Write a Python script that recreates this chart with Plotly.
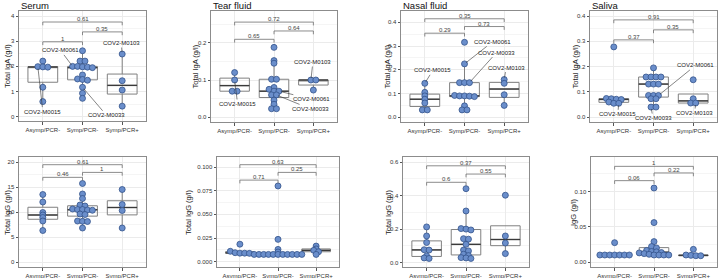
import numpy as np
import plotly.graph_objects as go

W, H = 719, 278
groups = ["Asymp/PCR-", "Symp/PCR-", "Symp/PCR+"]

# ---------------- data (g/l) ----------------
serum_iga_asymp = [2.21, 1.99, 1.98, 1.97, 1.17, 0.60]
serum_iga_symp_neg = [2.62, 2.21, 2.21, 2.00, 2.00, 1.98, 1.97, 1.95, 1.66, 1.50, 1.48, 1.45, 1.17, 0.93, 0.73]
serum_iga_symp_pos = [2.49, 1.43, 1.06, 0.42]
serum_iga_p = ["1", "0.35", "0.61"]          # (1-2, 2-3, 1-3)

tear_iga_asymp = [0.12, 0.10, 0.07, 0.07]
tear_iga_symp_neg = [0.1875, 0.152, 0.145, 0.102, 0.102, 0.08, 0.075, 0.07, 0.07, 0.06, 0.06, 0.046, 0.035, 0.023, 0.023]
tear_iga_symp_pos = [0.10, 0.10, 0.073]
tear_iga_p = ["0.65", "0.64", "0.72"]

nasal_iga_asymp = [0.143, 0.105, 0.09, 0.076, 0.06, 0.031, 0.031]
nasal_iga_symp_neg = [0.316, 0.225, 0.146, 0.146, 0.146, 0.092, 0.09, 0.09, 0.089, 0.087, 0.048, 0.031, 0.031]
nasal_iga_symp_pos = [0.159, 0.143, 0.095, 0.05]
nasal_iga_p = ["0.29", "0.73", "0.35"]

saliva_iga_asymp = [0.278, 0.074, 0.073, 0.071, 0.07, 0.06, 0.055, 0.055]
saliva_iga_symp_neg = [0.195, 0.159, 0.159, 0.159, 0.159, 0.131, 0.131, 0.131, 0.086, 0.086, 0.086, 0.073, 0.073, 0.04, 0.04]
saliva_iga_symp_pos = [0.148, 0.073, 0.056, 0.056]
saliva_iga_p = ["0.37", "0.35", "0.91"]

serum_igg_asymp = [13.5, 12.0, 9.9, 9.4, 8.9, 8.2, 6.3]
serum_igg_symp_neg = [15.7, 13.6, 12.7, 11.4, 11.2, 10.6, 10.5, 10.5, 10.4, 10.35, 9.6, 9.5, 8.2, 8.15, 8.1, 6.8]
serum_igg_symp_pos = [14.5, 11.5, 10.3, 6.8]
serum_igg_p = ["0.46", "1", "0.61"]

tear_igg_asymp = [0.0185, 0.011, 0.0095, 0.009, 0.009, 0.0088]
tear_igg_symp_neg = [0.080, 0.0236, 0.013, 0.0102] + [0.0077] * 11
tear_igg_symp_pos = [0.0165, 0.0135, 0.012, 0.0105, 0.0077]
tear_igg_p = ["0.71", "0.25", "0.63"]

nasal_igg_asymp = [0.213, 0.159, 0.12, 0.077, 0.075, 0.04, 0.028, 0.025]
nasal_igg_symp_neg = [0.441, 0.308, 0.203, 0.2, 0.195, 0.143, 0.14, 0.109, 0.075, 0.07, 0.05, 0.042, 0.03, 0.028, 0.025]
nasal_igg_symp_pos = [0.402, 0.159, 0.117, 0.054]
nasal_igg_p = ["0.6", "0.55", "0.37"]

saliva_igg_asymp = [0.0275] + [0.01] * 7
saliva_igg_symp_neg = [0.105, 0.056, 0.029, 0.022, 0.02, 0.0165, 0.015, 0.0145, 0.0135, 0.013, 0.012, 0.011, 0.01, 0.01, 0.01, 0.01]
saliva_igg_symp_pos = [0.018, 0.01, 0.0095, 0.009, 0.009]
saliva_igg_p = ["0.06", "0.22", "1"]

# labelled samples: (sample id, group index, point index)
serum_iga_ids = [("COV2-M0015", 0, 1), ("COV2-M0061", 1, 3), ("COV2-M0033", 1, 12), ("COV2-M0103", 2, 0)]
tear_iga_ids = [("COV2-M0015", 0, 1), ("COV2-M0061", 1, 8), ("COV2-M0033", 1, 10), ("COV2-M0103", 2, 0)]
nasal_iga_ids = [("COV2-M0015", 0, 0), ("COV2-M0061", 1, 1), ("COV2-M0033", 1, 4), ("COV2-M0103", 2, 0)]
saliva_iga_ids = [("COV2-M0015", 0, 7), ("COV2-M0061", 1, 10), ("COV2-M0033", 1, 13), ("COV2-M0103", 2, 3)]

# ---------------- layout config ----------------
FONT = "Liberation Sans, Arial, sans-serif"
panels = [
    dict(title="Serum", ytitle="Total IgA (g/l)", data=[serum_iga_asymp, serum_iga_symp_neg, serum_iga_symp_pos],
         p=serum_iga_p, ids=serum_iga_ids, box=(19, 146, 11, 121), yr=[-0.17, 4.2], dt=1, fmt="d", ytx=7,
         lev=(0.72, 0.81, 0.90), lab=[(5, 45), (-12, -16), (24, 28), (-1, -11)]),
    dict(title="Tear fluid", ytitle="Total IgA (g/l)", data=[tear_iga_asymp, tear_iga_symp_neg, tear_iga_symp_pos],
         p=tear_iga_p, ids=tear_iga_ids, box=(211, 337, 11, 122), yr=[-0.0126, 0.285], dt=0.1, fmt=".1f", ytx=195,
         lev=(0.745, 0.82, 0.90), lab=[(3, 24), (33, 8), (34, 14), (2, -18)]),
    dict(title="Nasal fluid", ytitle="Total IgA (g/l)", data=[nasal_iga_asymp, nasal_iga_symp_neg, nasal_iga_symp_pos],
         p=nasal_iga_p, ids=nasal_iga_ids, box=(401, 528, 11, 122), yr=[-0.02, 0.448], dt=0.1, fmt=".1f", ytx=387,
         lev=(0.80, 0.86, 0.93), lab=[(8, -13), (28, -22), (27, -30), (2, -12)]),
    dict(title="Saliva", ytitle="Total IgA (g/l)", data=[saliva_iga_asymp, saliva_iga_symp_neg, saliva_iga_symp_pos],
         p=saliva_iga_p, ids=saliva_iga_ids, box=(590, 717, 11, 122), yr=[-0.019, 0.42], dt=0.1, fmt=".1f", ytx=575,
         lev=(0.74, 0.83, 0.92), lab=[(-1, 11), (37, -30), (2, 11), (-1, 10)]),
    dict(title="", ytitle="Total IgG (g/l)", data=[serum_igg_asymp, serum_igg_symp_neg, serum_igg_symp_pos],
         p=serum_igg_p, ids=[], box=(19, 146, 157, 267), yr=[-1.0, 21.0], dt=5, fmt="d", ytx=7,
         lev=(0.815, 0.86, 0.93), lab=[]),
    dict(title="", ytitle="Total IgG (g/l)", data=[tear_igg_asymp, tear_igg_symp_neg, tear_igg_symp_pos],
         p=tear_igg_p, ids=[], box=(217, 339, 157, 267), yr=[-0.0056, 0.1106], dt=0.025, fmt=".3f", ytx=188,
         lev=(0.79, 0.86, 0.93), lab=[]),
    dict(title="", ytitle="Total IgG (g/l)", data=[nasal_igg_asymp, nasal_igg_symp_neg, nasal_igg_symp_pos],
         p=nasal_igg_p, ids=[], box=(403, 529, 157, 267), yr=[-0.026, 0.63], dt=0.2, fmt=".1f", ytx=388,
         lev=(0.77, 0.845, 0.92), lab=[]),
    dict(title="", ytitle="IgG (g/l)", data=[saliva_igg_asymp, saliva_igg_symp_neg, saliva_igg_symp_pos],
         p=saliva_igg_p, ids=[], box=(591, 717, 157, 267), yr=[-0.007, 0.149], dt=0.05, fmt=".2f", ytx=573,
         lev=(0.785, 0.855, 0.915), lab=[]),
]

DOT_STEP = 0.125
BOX_W = 0.75


def dot_offsets(vals, bw):
    vals = np.asarray(vals, float)
    order = np.argsort(vals, kind="stable")
    offs = np.zeros(len(vals))
    bins, cur, start = [], [], None
    for i in order:
        if start is None or vals[i] >= start + bw - 1e-12:
            if cur:
                bins.append(cur)
            cur, start = [i], vals[i]
        else:
            cur.append(i)
    if cur:
        bins.append(cur)
    for b in bins:
        b = sorted(b)
        k = len(b)
        for j, i in enumerate(b):
            offs[i] = (j - (k - 1) / 2) * DOT_STEP
    return offs


fig = go.Figure()
shapes, annotations = [], []

for n, pn in enumerate(panels, start=1):
    xa = "x" if n == 1 else f"x{n}"
    ya = "y" if n == 1 else f"y{n}"
    allv = np.concatenate([np.asarray(d, float) for d in pn["data"]])
    bw = (allv.max() - allv.min()) / 30.0
    pos_store = []
    for gi, vals in enumerate(pn["data"]):
        v = np.asarray(vals, float)
        pos = gi + 1
        q1, med, q3 = np.percentile(v, [25, 50, 75])
        iqr = q3 - q1
        lf = v[v >= q1 - 1.5 * iqr].min()
        uf = v[v <= q3 + 1.5 * iqr].max()
        fig.add_trace(go.Box(x=[pos], q1=[q1], median=[med], q3=[q3], lowerfence=[lf], upperfence=[uf],
                             width=BOX_W, whiskerwidth=0, boxpoints=False,
                             line=dict(color="#808080", width=1), fillcolor="rgba(255,255,255,0)",
                             xaxis=xa, yaxis=ya, showlegend=False, hoverinfo="skip"))
        fig.add_trace(go.Scatter(x=[pos - BOX_W / 2, pos + BOX_W / 2], y=[med, med], mode="lines",
                                 line=dict(color="#3a3a3a", width=1.4), xaxis=xa, yaxis=ya,
                                 showlegend=False, hoverinfo="skip"))
        offs = dot_offsets(v, bw)
        xs = pos + offs
        pos_store.append((xs, v))
        fig.add_trace(go.Scatter(x=xs, y=v, mode="markers",
                                 marker=dict(size=6, color="#6a8ecb", line=dict(color="#34538a", width=0.8)),
                                 xaxis=xa, yaxis=ya, showlegend=False))

    # sample labels
    for (txt, gi, pi), (ax, ay) in zip(pn["ids"], pn["lab"]):
        xs, v = pos_store[gi]
        annotations.append(dict(x=xs[pi], y=v[pi], xref=xa, yref=ya, text=txt, showarrow=True,
                                arrowhead=0, arrowwidth=0.6, arrowcolor="#333333", ax=ax, ay=ay,
                                standoff=2, font=dict(size=6, color="#222222", family=FONT)))

    # significance brackets
    pairs = [(1, 2), (2, 3), (1, 3)]
    ydom = f"{ya} domain"
    for (a, b), lv, ptxt in zip(pairs, pn["lev"], pn["p"]):
        shapes.append(dict(type="path", xref=xa, yref=ydom,
                           path=f"M {a},{lv - 0.03} L {a},{lv} L {b},{lv} L {b},{lv - 0.03}",
                           line=dict(color="#6e6e6e", width=0.8)))
        annotations.append(dict(x=(a + b) / 2, y=lv, xref=xa, yref=ydom, text=ptxt, showarrow=False,
                                yanchor="bottom", yshift=-2, font=dict(size=6, color="#444444", family=FONT)))

    l, r, t, btm = pn["box"]
    fig.layout[("xaxis" if n == 1 else f"xaxis{n}")] = dict(
        domain=[l / W, r / W], anchor=ya, range=[0.4, 3.6], tickvals=[1, 2, 3], ticktext=groups,
        showgrid=True, gridcolor="#ebebeb", gridwidth=0.7, zeroline=False,
        showline=True, mirror=True, linecolor="#8c8c8c", linewidth=1,
        ticks="outside", ticklen=2.5, tickcolor="#555555", tickwidth=0.7,
        tickfont=dict(size=6, color="#333333", family=FONT), automargin=False, fixedrange=True)
    fig.layout[("yaxis" if n == 1 else f"yaxis{n}")] = dict(
        domain=[1 - btm / H, 1 - t / H], anchor=xa, range=pn["yr"], dtick=pn["dt"], tick0=0,
        tickformat=pn["fmt"], showgrid=True, gridcolor="#ebebeb", gridwidth=0.7, zeroline=False,
        showline=True, mirror=True, linecolor="#8c8c8c", linewidth=1,
        ticks="outside", ticklen=2.5, tickcolor="#555555", tickwidth=0.7,
        minor=dict(dtick=pn["dt"] / 2, tick0=0, showgrid=True, gridcolor="#f5f5f5", gridwidth=0.5, ticklen=0),
        tickfont=dict(size=6, color="#333333", family=FONT), automargin=False, fixedrange=True)

    annotations.append(dict(x=pn["ytx"] / W, y=0.5, xref="paper", yref=ydom, text=pn["ytitle"],
                            textangle=-90, showarrow=False, xanchor="center", yanchor="middle",
                            font=dict(size=7.5, color="#222222", family=FONT)))
    if pn["title"]:
        annotations.append(dict(x=l / W, y=1 - 5.5 / H, xref="paper", yref="paper", text=pn["title"],
                                showarrow=False, xanchor="left", yanchor="middle",
                                font=dict(size=9.5, color="#111111", family=FONT)))

fig.update_layout(width=W, height=H, margin=dict(l=0, r=0, t=0, b=0),
                  paper_bgcolor="white", plot_bgcolor="white", showlegend=False,
                  shapes=shapes, annotations=annotations, font=dict(family=FONT))

fig.write_html("out.html", config={"displayModeBar": False},
               post_script="document.body.style.margin='0px';document.body.style.padding='0px';")
